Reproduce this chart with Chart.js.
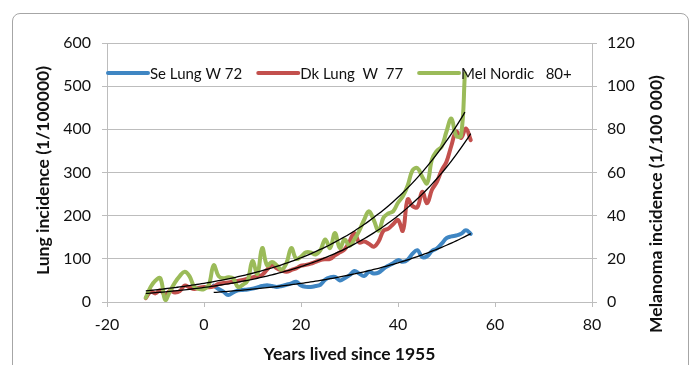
<!DOCTYPE html>
<html>
<head>
<meta charset="utf-8">
<script src="https://cdn.jsdelivr.net/npm/chart.js@4/dist/chart.umd.min.js"></script>
<style>
  html, body { margin: 0; padding: 0; background: #ffffff; }
  #wrap { position: relative; width: 696px; height: 365px; overflow: hidden; }
  #frame { position: absolute; left: 12px; top: 13px; width: 677px; height: 380px;
           border: 1px solid #a6a6a6; border-radius: 8px; box-sizing: border-box; }
  #c { position: absolute; left: 0; top: 0; }
</style>
</head>
<body>
<div id="wrap">
  <div id="frame"></div>
  <canvas id="c" width="696" height="365"></canvas>
</div>
<script>
// ---- data ----
const SERIES_NAMES = ["Se Lung W 72", "Dk Lung  W  77", "Mel Nordic   80+"];

const SE_YEARS = [2,3,4,5,6,7,8,9,10,11,12,13,14,15,16,17,18,19,20,21,22,23,24,25,26,27,28,29,30,31,32,33,34,35,36,37,38,39,40,41,42,43,44,45,46,47,48,49,50,51,52,53,54,55];
const SE_LUNG  = [38,30,24,16,22,27,28,29,31,34,37,39,37,35,37,40,43,47,38,35,35,37,40,52,57,58,50,55,62,72,66,60,70,66,68,77,84,90,97,93,98,112,120,104,106,118,124,135,148,152,154,158,166,158];

const DK_YEARS = [-12,-11,-10,-9,-8,-7,-6,-5,-4,-3,-2,-1,0,1,2,3,4,5,6,7,8,9,10,11,12,13,14,15,16,17,18,19,20,21,22,23,24,25,26,27,28,29,30,31,32,33,34,35,36,37,38,39,40,41,42,43,44,45,46,47,48,49,50,51,52,53,54,55];
const DK_LUNG  = [9,24,20,27,16,26,22,25,38,34,30,33,35,34,36,42,44,45,47,49,51,54,57,60,63,75,86,78,73,70,74,78,84,86,89,93,97,99,100,108,115,122,140,160,138,140,135,128,140,165,170,180,190,165,238,222,220,255,229,260,278,305,325,362,395,380,402,375];

const MEL_YEARS = [-12,-11,-10,-9,-8,-7,-6,-5,-4,-3,-2,-1,0,1,2,3,4,5,6,7,8,9,10,11,12,13,14,15,16,17,18,19,20,21,22,23,24,25,26,27,28,29,30,31,32,33,34,35,36,37,38,39,40,41,42,43,44,45,46,47,48,49,50,51,52,53,53.8];
const MEL_NORDIC = [2,7,10,11,1,5,9,12,14,12,7,6,6,8,17,12,11,11.5,11,7,8,10,19,13,25,17,18.5,17,15,18,25,20,21,23,23,22,24,29,25,32,25,29,26,29,33,38,42,38,33,39,41,42,46,49,54,61,62,58,55,66,70,72,79,85,77,77,106];

const X_TICKS = [-20, 0, 20, 40, 60, 80];
const Y_LEFT_TICKS = [0, 100, 200, 300, 400, 500, 600];
const Y_RIGHT_TICKS = [0, 20, 40, 60, 80, 100, 120];

const X_TITLE = "Years lived since 1955";
const Y_LEFT_TITLE = "Lung incidence (1/100000)";
const Y_RIGHT_TITLE = "Melanoma incidence (1/100 000)";

// ---- helpers ----
function pts(xs, ys) { return xs.map((x, i) => ({ x: x, y: ys[i] })); }
// exponential least-squares trendline (as a spreadsheet "exponential trendline")
function expTrend(xs, ys) {
  const P = xs.map((x, i) => [x, ys[i]]).filter(p => p[1] > 0);
  const n = P.length;
  let sx = 0, sy = 0, sxx = 0, sxy = 0;
  P.forEach(([x, y]) => { const ly = Math.log(y); sx += x; sy += ly; sxx += x * x; sxy += x * ly; });
  const b = (n * sxy - sx * sy) / (n * sxx - sx * sx);
  const a = Math.exp((sy - b * sx) / n);
  return xs.map(x => ({ x: x, y: a * Math.exp(b * x) }));
}

const BLUE = "#3f86c3", RED = "#c3504d", GREEN = "#9bbb59";
const FONT = "Lato, 'Open Sans', sans-serif";
const GRID = "#bdbdbd";

const lineDs = (label, data, color, axis, order) => ({
  label, data, borderColor: color, backgroundColor: color, borderWidth: 4,
  pointRadius: 0, tension: 0.4, yAxisID: axis, order, fill: false,
  borderCapStyle: 'round', borderJoinStyle: 'round'
});
const trendDs = (data, axis) => ({
  label: "trend", isTrend: true, data, borderColor: "#000000", borderWidth: 1.3,
  pointRadius: 0, tension: 0.4, yAxisID: axis, order: 0, fill: false
});

const decor = {
  id: 'decor',
  afterDraw(chart) {
    const ctx = chart.ctx, ca = chart.chartArea;
    ctx.save();
    ctx.fillStyle = "#111";
    ctx.font = "bold 17.5px " + FONT;
    ctx.textAlign = "center"; ctx.textBaseline = "middle";
    // x title
    ctx.fillText(X_TITLE, (ca.left + ca.right) / 2, ca.bottom + 52);
    // left title
    ctx.save();
    ctx.translate(ca.left - 64, (ca.top + ca.bottom) / 2 - 2);
    ctx.rotate(-Math.PI / 2);
    ctx.fillText(Y_LEFT_TITLE, 0, 0);
    ctx.restore();
    // right title
    ctx.save();
    ctx.translate(ca.right + 64, ca.bottom - 98);
    ctx.rotate(-Math.PI / 2);
    ctx.fillText(Y_RIGHT_TITLE, 0, 0);
    ctx.restore();
    // legend inside plot
    ctx.font = "15px " + FONT;
    ctx.textAlign = "left";
    let x = ca.left;
    const y = ca.top + 30;
    chart.data.datasets.filter(d => !d.isTrend).forEach(d => {
      ctx.strokeStyle = d.borderColor; ctx.lineWidth = 4; ctx.lineCap = "round";
      ctx.beginPath(); ctx.moveTo(x + 1, y); ctx.lineTo(x + 41, y); ctx.stroke();
      x += 43;
      ctx.fillText(d.label, x, y + 1);
      x += ctx.measureText(d.label).width + 15;
    });
    ctx.restore();
  }
};

new Chart(document.getElementById('c'), {
  type: 'line',
  data: {
    datasets: [
      lineDs(SERIES_NAMES[0], pts(SE_YEARS, SE_LUNG), BLUE, 'y', 3),
      lineDs(SERIES_NAMES[1], pts(DK_YEARS, DK_LUNG), RED, 'y', 2),
      lineDs(SERIES_NAMES[2], pts(MEL_YEARS, MEL_NORDIC), GREEN, 'y1', 1),
      trendDs(expTrend(SE_YEARS, SE_LUNG), 'y'),
      trendDs(expTrend(DK_YEARS, DK_LUNG), 'y'),
      trendDs(expTrend(MEL_YEARS, MEL_NORDIC), 'y1')
    ]
  },
  options: {
    responsive: false,
    animation: false,
    layout: { padding: { top: 43, left: 0, right: 0, bottom: 0 } },
    plugins: { legend: { display: false }, tooltip: { enabled: false } },
    scales: {
      x: {
        type: 'linear', min: X_TICKS[0], max: X_TICKS[X_TICKS.length - 1],
        afterBuildTicks(s) { s.ticks = X_TICKS.map(v => ({ value: v })); },
        afterFit(s) { s.height = 63; },
        grid: { drawOnChartArea: false, color: GRID, tickLength: 5 },
        border: { color: GRID },
        ticks: { color: "#111", font: { family: FONT, size: 16 }, padding: 8 }
      },
      y: {
        position: 'left', min: 0, max: 600,
        afterBuildTicks(s) { s.ticks = Y_LEFT_TICKS.map(v => ({ value: v })); },
        afterFit(s) { s.width = 107; },
        grid: { color: GRID, tickLength: 5 },
        border: { color: GRID },
        ticks: { color: "#111", font: { family: FONT, size: 16 }, padding: 11 }
      },
      y1: {
        position: 'right', min: 0, max: 120,
        afterBuildTicks(s) { s.ticks = Y_RIGHT_TICKS.map(v => ({ value: v })); },
        afterFit(s) { s.width = 104; },
        grid: { drawOnChartArea: false, color: GRID, tickLength: 5 },
        border: { color: GRID },
        ticks: { color: "#111", font: { family: FONT, size: 16 }, padding: 10 }
      }
    }
  },
  plugins: [decor]
});
</script>
</body>
</html>
